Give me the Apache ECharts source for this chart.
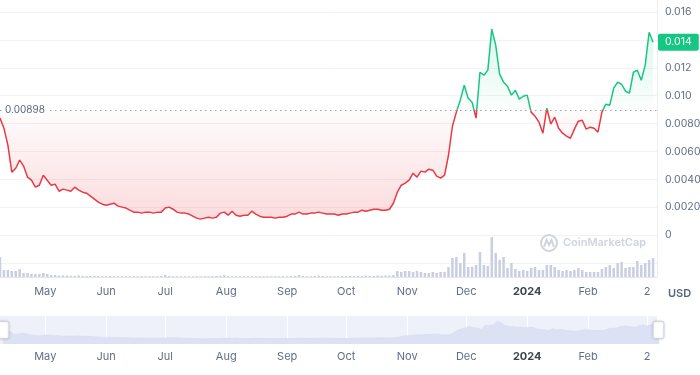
<!DOCTYPE html>
<html><head><meta charset="utf-8">
<script src="https://cdn.jsdelivr.net/npm/echarts@6/dist/echarts.min.js"></script>
<style>html,body{margin:0;padding:0;background:#fff}#c{width:700px;height:375px}</style>
</head><body><div id="c"></div>
<script>
// ---- data ----
const startDate = '2023-04-08';
const stepDays = 2;
const axisEndDate = '2024-03-07';
const baseValue = 0.00898;
const prices = [
0.00839,0.00767,0.00645,0.00452,0.00480,0.00538,0.00495,0.00416,0.00394,0.00344,
0.00358,0.00430,0.00394,0.00358,0.00366,0.00315,0.00330,0.00323,0.00315,0.00344,
0.00323,0.00308,0.00301,0.00280,0.00258,0.00237,0.00222,0.00215,0.00222,0.00229,
0.00208,0.00201,0.00194,0.00179,0.00165,0.00165,0.00158,0.00165,0.00165,0.00158,
0.00165,0.00165,0.00194,0.00201,0.00186,0.00165,0.00158,0.00158,0.00151,0.00136,
0.00122,0.00115,0.00122,0.00129,0.00122,0.00129,0.00158,0.00165,0.00143,0.00172,
0.00143,0.00136,0.00143,0.00143,0.00172,0.00151,0.00136,0.00129,0.00129,0.00129,
0.00122,0.00129,0.00129,0.00136,0.00151,0.00151,0.00165,0.00151,0.00151,0.00158,
0.00158,0.00165,0.00158,0.00151,0.00151,0.00151,0.00143,0.00151,0.00151,0.00158,
0.00165,0.00165,0.00179,0.00172,0.00179,0.00186,0.00186,0.00179,0.00179,0.00186,
0.00229,0.00308,0.00358,0.00373,0.00394,0.00444,0.00416,0.00459,0.00452,0.00473,
0.00466,0.00423,0.00409,0.00430,0.00573,0.00781,0.00882,0.00968,0.01075,0.00982,
0.00953,0.00839,0.01168,0.01147,0.01183,0.01477,0.01362,0.01154,0.01097,0.01068,
0.01004,0.01039,0.00975,0.00996,0.01004,0.00882,0.00853,0.00810,0.00731,0.00910,
0.00796,0.00846,0.00767,0.00731,0.00710,0.00695,0.00760,0.00817,0.00824,0.00760,
0.00774,0.00767,0.00738,0.00882,0.00939,0.00932,0.01054,0.01097,0.01082,0.01032,
0.01018,0.01168,0.01183,0.01111,0.01219,0.01455,0.01383
];
const volumes = [
20,7,7,6,6,8,4,4,3,3,
3,4,3,2,2,1.5,1.5,1.5,1.2,1.2,
1.5,1.2,1,1,1,1,0.8,0.8,1,0.8,
0.8,0.8,0.8,0.8,0.8,0.8,0.8,0.8,0.8,0.8,
0.8,1,2,1,0.8,0.8,0.8,0.8,0.8,0.8,
0.8,0.8,0.8,0.8,0.8,1,1.2,2,1,0.8,
0.8,0.8,0.8,0.8,0.8,0.8,0.8,0.8,0.8,0.8,
0.8,0.8,0.8,0.8,1,1.2,2,1,0.8,0.8,
1,1.5,1,0.8,0.8,0.8,0.8,1,1,1.2,
1,1.2,1,1.5,1.2,1,1.5,1.2,1.5,1.5,
2,6,5,6,6,5,6,5,4,4,
5,4,5,5,10,19,20,14,24,10,
10,12,25,12,11,40,24,17,20,9,
14,8,6,7,6,9,10,7,7,12,
12,10,7,6,7,6,7,9,7,5,
5,5,5,8,10,12,9,14,15,9,
10,10,16,12,14,17,19
];
const tickDates = ['2023-05-01','2023-06-01','2023-07-01','2023-08-01','2023-09-01','2023-10-01','2023-11-01','2023-12-01','2024-01-01','2024-02-01','2024-03-02'];
const monthNames = ['Jan','Feb','Mar','Apr','May','Jun','Jul','Aug','Sep','Oct','Nov','Dec'];

// ---- build ----
const DAY = 86400000;
const t0 = new Date(startDate).getTime();
const tEnd = new Date(axisEndDate).getTime();
const priceData = prices.map((v, i) => [t0 + i * stepDays * DAY, v]);
const volData = volumes.map((v, i) => [t0 + i * stepDays * DAY, v]);
const tickVals = tickDates.map(d => new Date(d).getTime());
const lastPrice = prices[prices.length - 1];
const maxP = Math.max(...prices), minP = Math.min(...prices);
const off = (maxP - baseValue) / (maxP - minP);
const GREEN = '#16c784', RED = '#ea3943';
const FONT = 'Inter';
const LABEL = '#616e85';
const Y_MIN = -0.003, Y_MAX = 0.01686;

function xFmt(v) {
  const d = new Date(v);
  const m = d.getUTCMonth();
  if (m === 0) return '{b|' + d.getUTCFullYear() + '}';
  if (d.getUTCDate() !== 1) return String(d.getUTCDate());
  return monthNames[m];
}
function xLabel(margin) {
  return {
    margin: margin, customValues: tickVals, formatter: xFmt, color: LABEL, fontSize: 11, fontFamily: FONT,
    rich: { b: { fontWeight: 'bold', color: '#3a4456', fontSize: 11, fontFamily: FONT } }
  };
}

const chart = echarts.init(document.getElementById('c'), null, { renderer: 'canvas' });
chart.setOption({
  animation: false,
  grid: [
    { left: 0, right: 43, top: 0, bottom: 98, outerBoundsMode: 'none', containLabel: false },
    { left: 0, right: 43, top: 316, height: 28, outerBoundsMode: 'none', containLabel: false,
      show: true, backgroundColor: '#eef1fa', borderWidth: 0 }
  ],
  xAxis: [
    { type: 'value', gridIndex: 0, min: t0, max: tEnd, scale: true,
      axisLine: { show: true, onZero: false, lineStyle: { color: '#e3e6ed' } },
      axisTick: { show: false, customValues: tickVals },
      splitLine: { show: false },
      axisLabel: xLabel(9) },
    { type: 'value', gridIndex: 1, min: t0, max: tEnd, scale: true,
      axisLine: { show: false },
      axisTick: { show: false, customValues: tickVals },
      splitLine: { show: true, lineStyle: { color: 'rgba(255,255,255,0.9)', width: 1 } },
      axisLabel: xLabel(7) }
  ],
  yAxis: [
    { type: 'value', gridIndex: 0, position: 'right', min: Y_MIN, max: Y_MAX, splitNumber: 10,
      axisLine: { show: true, onZero: false, lineStyle: { color: '#eceef3' } },
      axisTick: { show: false },
      splitLine: { show: true, showMinLine: false, showMaxLine: false, lineStyle: { color: '#f1f2f5' } },
      axisLabel: {
        margin: 8, color: LABEL, fontSize: 10.5, fontFamily: FONT,
        formatter: function (v) {
          if (v < -1e-9) return '';
          if (Math.abs(v) < 1e-9) return '0';
          const k = Math.round(v / 0.002);
          if (Math.abs(v - k * 0.002) > 1e-7) return '';
          return v >= 0.00999 ? v.toFixed(3) : v.toFixed(4);
        }
      } },
    { type: 'value', gridIndex: 0, min: 0, max: 277, show: false },
    { type: 'value', gridIndex: 1, min: 0, max: 1, show: false }
  ],
  visualMap: {
    show: false, type: 'piecewise', seriesIndex: 0, dimension: 1,
    pieces: [{ gte: Y_MIN, lte: baseValue, color: RED }, { gt: baseValue, lte: Y_MAX, color: GREEN }],
    outOfRange: { color: GREEN }
  },
  dataZoom: [{
    type: 'slider', xAxisIndex: 0, left: 0, right: 43, top: 316, height: 28,
    backgroundColor: 'rgba(0,0,0,0)', borderColor: 'transparent', fillerColor: 'rgba(0,0,0,0)',
    dataBackground: { lineStyle: { color: '#d3daee', width: 0.5 }, areaStyle: { color: '#dce2f3', opacity: 1 } },
    selectedDataBackground: { lineStyle: { color: '#d3daee', width: 0.5 }, areaStyle: { color: '#dce2f3', opacity: 1 } },
    handleIcon: 'path://M-3,-8 h6 a2,2 0 0 1 2,2 v12 a2,2 0 0 1 -2,2 h-6 a2,2 0 0 1 -2,-2 v-12 a2,2 0 0 1 2,-2 z',
    handleSize: '62%',
    handleStyle: { color: '#fff', borderColor: '#c9cfdc', borderWidth: 1, shadowBlur: 3, shadowColor: 'rgba(0,0,0,0.12)' },
    moveHandleSize: 0, showDetail: false, brushSelect: false
  }],
  graphic: [
    { type: 'circle', shape: { cx: 549, cy: 243, r: 8 }, style: { fill: 'none', stroke: '#cfd4de', lineWidth: 2 }, z: 1 },
    { type: 'polyline', shape: { points: [[544, 247], [546.5, 240], [549, 245], [551.5, 240], [554, 247]] }, style: { fill: 'none', stroke: '#cfd4de', lineWidth: 2 }, z: 1 },
    { type: 'text', x: 563, y: 243, style: { text: 'CoinMarketCap', fill: '#cfd4de', font: '600 11px Inter', verticalAlign: 'middle' }, z: 1 },
    { type: 'text', x: 668, y: 294, style: { text: 'USD', fill: '#58667e', font: '600 11px Inter', verticalAlign: 'middle' } }
  ],
  series: [
    { type: 'line', xAxisIndex: 0, yAxisIndex: 0, data: priceData, showSymbol: false, symbol: 'none',
      lineStyle: { width: 1.5 }, z: 3,
      areaStyle: {
        origin: baseValue,
        color: { type: 'linear', x: 0, y: 0, x2: 0, y2: 1, colorStops: [
          { offset: 0, color: 'rgba(22,199,132,0.22)' },
          { offset: off, color: 'rgba(22,199,132,0.02)' },
          { offset: off, color: 'rgba(234,57,67,0.02)' },
          { offset: 1, color: 'rgba(234,57,67,0.26)' }
        ] }
      },
      markLine: {
        silent: true, symbol: 'none', precision: 6,
        data: [
          { yAxis: baseValue,
            lineStyle: { type: [1.5, 3.5], color: '#9aa3b2', width: 1 },
            label: { position: 'insideStartTop', distance: [3, -7], formatter: String(baseValue),
              color: '#58667e', fontSize: 10, fontFamily: FONT, backgroundColor: '#fff', padding: [2, 2] } },
          { yAxis: lastPrice,
            lineStyle: { color: 'rgba(0,0,0,0)', width: 0 },
            label: { position: 'end', distance: 1, formatter: lastPrice.toFixed(3), opacity: 1,
              color: '#fff', fontSize: 10.5, fontFamily: FONT, backgroundColor: GREEN, padding: [3, 7], borderRadius: 2 } }
        ]
      } },
    { type: 'bar', xAxisIndex: 0, yAxisIndex: 1, data: volData, barWidth: 2.5,
      itemStyle: { color: '#c9cfe1' }, z: 2, silent: true },
    { type: 'line', xAxisIndex: 1, yAxisIndex: 2, data: [[t0, 0]], symbol: 'none', lineStyle: { opacity: 0 }, silent: true }
  ]
});
</script></body></html>
